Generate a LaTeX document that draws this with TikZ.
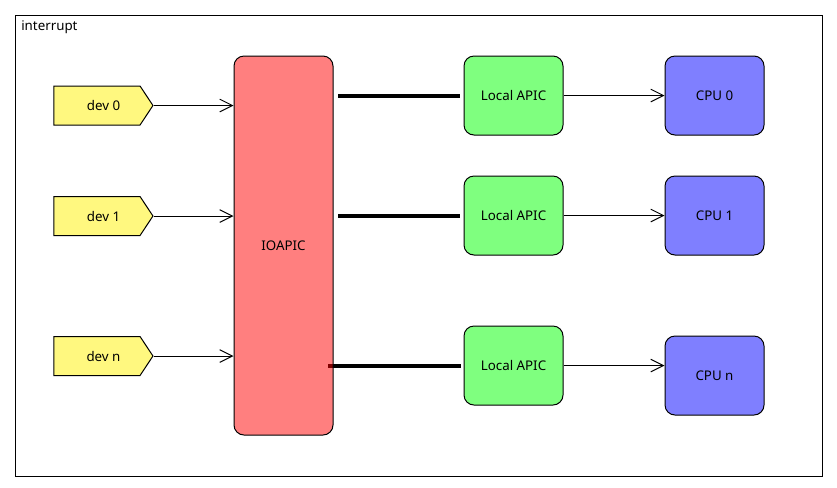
\documentclass[tikz,border=0pt]{standalone}
\usepackage{fontspec}
\setmainfont{Noto Sans}
\usetikzlibrary{shapes.symbols, arrows.meta, positioning}

\begin{document}
\begin{tikzpicture}[
        x=0.75pt, y=-0.75pt,
        node distance=75.75pt,
        font=\fontsize{10}{12}\selectfont,
        box/.style={rectangle, draw, line width=0.75pt, rounded corners=7.5pt, fill opacity=0.5, text opacity=1, minimum width=74.25pt, minimum height=59.25pt, inner sep=0pt},
        dev/.style={signal, signal to=east, signal pointer angle=113, draw, line width=0.75pt, fill=yellow, fill opacity=0.5, text opacity=1, minimum width=74.25pt, minimum height=29.25pt, inner sep=0pt, execute at begin node={\hspace*{9.75pt}}},
        apic/.style={box, fill=green},
        cpu/.style={box, fill=blue},
        arrow/.style={draw, line width=0.75pt, -{Straight Barb[length=9.5pt, width=9.5pt]}},
        bus/.style={draw, line width=3pt}
    ]

    \useasboundingbox (0,0) rectangle (837,487);

    % Frame
    \draw[line width=0.75pt] (15,15) rectangle (822,476);
    \node[anchor=west, inner sep=0pt] (title) at (21,27) {interrupt};

    % Nodes
    \node [dev] (dev0) at (97,105.5) {dev 0};
    \node [dev] (dev1) at (97,216) {dev 1};
    \node [dev] (devn) at (97,356) {dev n};

    \node [apic] (lapic0) at (513.5,95.5) {Local APIC};
    \node [apic] (lapic1) at (513.5,215.5) {Local APIC};
    \node [apic] (lapicn) at (513.5,365.5) {Local APIC};

    \node [cpu, right=of lapic0] (cpu0) {CPU 0};
    \node [cpu, right=of lapic1] (cpu1) {CPU 1};
    \node [cpu, right=of lapicn, yshift=-7.5pt] (cpun) {CPU n};

    % this one runs under the IOAPIC box
    \coordinate (busn) at (328,365.5);
    \path [bus] (busn) -- ([xshift=-2.25pt]lapicn.west);

    \node [box, fill=red, minimum height=284.25pt] (ioapic) at (283.5,245.5) {IOAPIC};

    % Edges
    \path [arrow] (dev0.east) -- (dev0.east -| ioapic.west);
    \path [arrow] (dev1.east) -- (dev1.east -| ioapic.west);
    \path [arrow] (devn.east) -- (devn.east -| ioapic.west);

    \path [bus] ([xshift=3.5pt]ioapic.east |- lapic0) -- ([xshift=-3pt]lapic0.west);
    \path [bus] ([xshift=3.5pt]ioapic.east |- lapic1) -- ([xshift=-3pt]lapic1.west);

    \path [arrow] (lapic0) -- (cpu0);
    \path [arrow] (lapic1) -- (cpu1);
    \path [arrow] (lapicn.east) -- (lapicn.east -| cpun.west);

\end{tikzpicture}
\end{document}
